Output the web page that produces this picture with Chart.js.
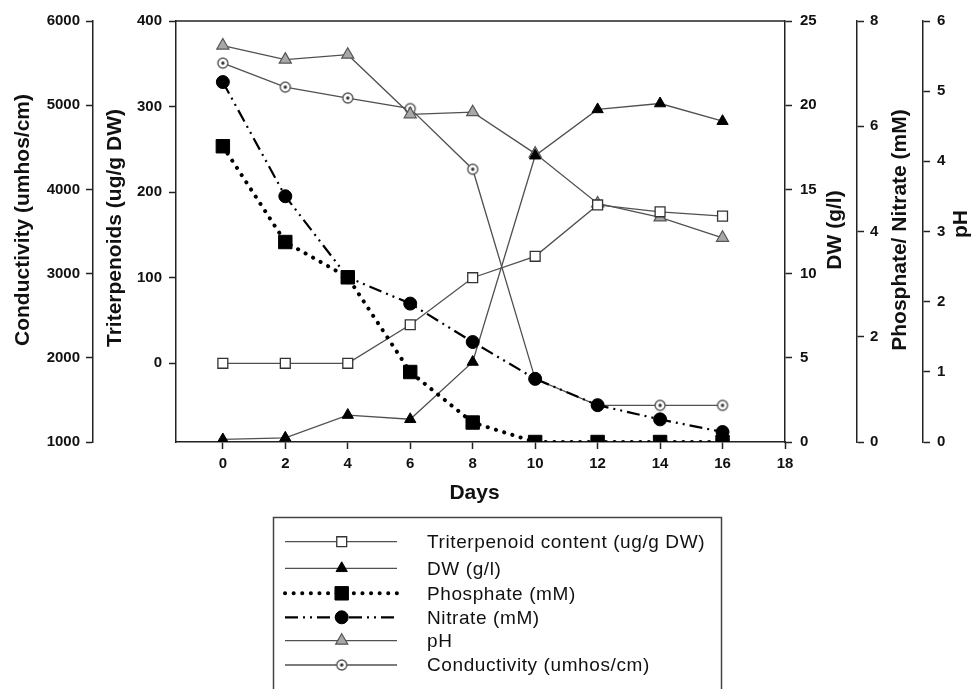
<!DOCTYPE html>
<html>
<head>
<meta charset="utf-8">
<title>Culture time course</title>
<script src="https://cdn.jsdelivr.net/npm/chart.js@4.4.1/dist/chart.umd.min.js"></script>
<style>
  body { margin: 0; background: #fff; }
  canvas { display: block; }
</style>
</head>
<body>
<canvas id="myChart" width="971" height="689"></canvas>
<script>
// values
const days = [0, 2, 4, 6, 8, 10, 12, 14, 16];
const triterpenoid = [0, 0, 0, 45, 100, 125, 185, 177, 172];
const dryWeight = [0.15, 0.25, 1.6, 1.35, 4.75, 17.0, 19.75, 20.1, 19.05];
const phosphate = [5.62, 3.8, 3.13, 1.33, 0.37, 0, 0, 0, 0];
const nitrate = [6.84, 4.67, 3.13, 2.63, 1.9, 1.2, 0.7, 0.43, 0.19];
const ph = [5.65, 5.45, 5.52, 4.67, 4.7, 4.11, 3.4, 3.2, 2.91];
const conductivity = [5500, 5215, 5085, 4960, 4240, 1750, 1435, 1435, 1435];

const dayTicks = [0, 2, 4, 6, 8, 10, 12, 14, 16, 18];
const conductivityTicks = [1000, 2000, 3000, 4000, 5000, 6000];
const triterpenoidTicks = [0, 100, 200, 300, 400];
const dwTicks = [0, 5, 10, 15, 20, 25];
const mmTicks = [0, 2, 4, 6, 8];
const phTicks = [0, 1, 2, 3, 4, 5, 6];

const seriesLabels = [
    'Triterpenoid content (ug/g DW)',
    'DW (g/l)',
    'Phosphate (mM)',
    'Nitrate (mM)',
    'pH',
    'Conductivity (umhos/cm)'
];

const toPoints = vals => vals.map((v, i) => ({ x: days[i], y: v }));
const useTicks = list => scale => { scale.ticks = list.map(v => ({ value: v })); };

const tickFont = { family: "'Liberation Sans', Arial, sans-serif", size: 15, weight: 'bold' };
const titleFont = "bold 21px 'Liberation Sans', Arial, sans-serif";
const legendFont = "19px 'Liberation Sans', Arial, sans-serif";
const axisColor = '#222';
const lineGray = '#505050';

// open circle with a dot in the middle, for conductivity
function circleDot(r) {
    const c = document.createElement('canvas');
    const s = 2 * r + 4;
    c.width = c.height = s;
    const g = c.getContext('2d');
    g.beginPath();
    g.arc(s / 2, s / 2, r, 0, Math.PI * 2);
    g.fillStyle = '#fff';
    g.fill();
    g.lineWidth = 1.4;
    g.strokeStyle = '#555';
    g.stroke();
    g.beginPath();
    g.arc(s / 2, s / 2, 1.7, 0, Math.PI * 2);
    g.fillStyle = '#333';
    g.fill();
    return c;
}
const condMarker = circleDot(5);

function yAxis(position, weight, width, min, max, ticks, padding) {
    return {
        type: 'linear',
        position: position,
        weight: weight,
        min: min,
        max: max,
        afterBuildTicks: useTicks(ticks),
        afterFit: scale => { scale.width = width; },
        grid: { drawOnChartArea: false, tickLength: 7, tickColor: axisColor, tickWidth: 1.5 },
        border: { display: true, color: axisColor, width: 1.5 },
        ticks: { font: tickFont, color: '#111', padding: padding, callback: v => String(v) }
    };
}

// axis titles drawn by hand so the right-hand ones read bottom to top
const axisTitles = {
    id: 'axisTitles',
    afterDraw(chart) {
        const { ctx, scales, chartArea } = chart;
        const vertical = [
            ['yCond', 23, 220, 'Conductivity (umhos/cm)'],
            ['yTri', 22, 228, 'Triterpenoids (ug/g DW)'],
            ['yDw', 50, 230, 'DW (g/l)'],
            ['yMm', 43, 230, 'Phosphate/ Nitrate (mM)'],
            ['yPh', 38, 224, 'pH']
        ];
        ctx.save();
        ctx.fillStyle = '#111';
        ctx.font = titleFont;
        ctx.textAlign = 'center';
        ctx.textBaseline = 'middle';
        vertical.forEach(([id, dx, y, text]) => {
            ctx.save();
            ctx.translate(scales[id].left + dx, y);
            ctx.rotate(-Math.PI / 2);
            ctx.fillText(text, 0, 0);
            ctx.restore();
        });
        ctx.fillText('Days', (chartArea.left + chartArea.right) / 2 - 6, 493);

        // top edge of the plot frame
        ctx.strokeStyle = axisColor;
        ctx.lineWidth = 1.5;
        ctx.beginPath();
        ctx.moveTo(chartArea.left, chartArea.top);
        ctx.lineTo(chartArea.right, chartArea.top);
        ctx.stroke();
        ctx.restore();
    }
};

// boxed legend under the plot
const boxLegend = {
    id: 'boxLegend',
    afterDraw(chart) {
        const ctx = chart.ctx;
        const rowY = [541.7, 568.3, 593.3, 617.3, 640.7, 665];
        ctx.save();
        ctx.strokeStyle = '#444';
        ctx.lineWidth = 1.5;
        ctx.strokeRect(273.5, 517.5, 448, 190);
        chart.data.datasets.forEach((ds, i) => {
            const y = rowY[i];
            ctx.save();
            ctx.strokeStyle = ds.borderColor;
            ctx.lineWidth = ds.borderWidth;
            ctx.lineCap = ds.borderCapStyle || 'butt';
            ctx.setLineDash(ds.borderDash || []);
            ctx.beginPath();
            ctx.moveTo(285, y);
            ctx.lineTo(397, y);
            ctx.stroke();
            ctx.restore();

            ctx.save();
            ctx.fillStyle = ds.pointBackgroundColor;
            ctx.strokeStyle = ds.pointBorderColor;
            ctx.lineWidth = ds.pointBorderWidth;
            Chart.helpers.drawPoint(ctx, {
                pointStyle: ds.pointStyle,
                radius: ds.pointRadius,
                rotation: 0,
                borderWidth: ds.pointBorderWidth
            }, 341.7, y);
            ctx.restore();

            ctx.save();
            ctx.fillStyle = '#111';
            ctx.font = legendFont;
            ctx.letterSpacing = '0.6px';
            ctx.textAlign = 'left';
            ctx.textBaseline = 'middle';
            ctx.fillText(ds.label, 427, y + 1);
            ctx.restore();
        });
        ctx.restore();
    }
};

const ctx = document.getElementById('myChart').getContext('2d');

new Chart(ctx, {
    type: 'line',
    data: {
        datasets: [{
            label: seriesLabels[0],
            data: toPoints(triterpenoid),
            yAxisID: 'yTri',
            borderColor: lineGray,
            borderWidth: 1.3,
            pointStyle: 'rect',
            pointRadius: 7,
            pointBackgroundColor: '#fff',
            pointBorderColor: '#333',
            pointBorderWidth: 1.3,
            order: 3
        }, {
            label: seriesLabels[1],
            data: toPoints(dryWeight),
            yAxisID: 'yDw',
            borderColor: lineGray,
            borderWidth: 1.3,
            pointStyle: 'triangle',
            pointRadius: 6.5,
            pointBackgroundColor: '#000',
            pointBorderColor: '#000',
            pointBorderWidth: 1,
            order: 4
        }, {
            label: seriesLabels[2],
            data: toPoints(phosphate),
            yAxisID: 'yMm',
            borderColor: '#000',
            borderWidth: 4,
            borderDash: [0.1, 8.5],
            borderCapStyle: 'round',
            pointStyle: 'rect',
            pointRadius: 9.5,
            pointBackgroundColor: '#000',
            pointBorderColor: '#000',
            pointBorderWidth: 1,
            order: 1
        }, {
            label: seriesLabels[3],
            data: toPoints(nitrate),
            yAxisID: 'yMm',
            borderColor: '#000',
            borderWidth: 2.2,
            borderDash: [13, 5, 2, 5, 2, 5],
            pointStyle: 'circle',
            pointRadius: 6.5,
            pointBackgroundColor: '#000',
            pointBorderColor: '#000',
            pointBorderWidth: 1,
            order: 2
        }, {
            label: seriesLabels[4],
            data: toPoints(ph),
            yAxisID: 'yPh',
            borderColor: lineGray,
            borderWidth: 1.3,
            pointStyle: 'triangle',
            pointRadius: 7,
            pointBackgroundColor: '#a8a8a8',
            pointBorderColor: '#555',
            pointBorderWidth: 1.2,
            order: 5
        }, {
            label: seriesLabels[5],
            data: toPoints(conductivity),
            yAxisID: 'yCond',
            borderColor: lineGray,
            borderWidth: 1.3,
            pointStyle: condMarker,
            pointRadius: 5,
            pointBackgroundColor: '#fff',
            pointBorderColor: '#555',
            pointBorderWidth: 1.3,
            order: 6
        }]
    },
    options: {
        responsive: false,
        animation: false,
        layout: { padding: { top: 21, bottom: 217, left: 0, right: 0 } },
        elements: { line: { tension: 0 } },
        plugins: {
            legend: { display: false },
            tooltip: { enabled: false }
        },
        scales: {
            x: {
                type: 'linear',
                position: 'bottom',
                min: -1.5,
                max: 18,
                afterBuildTicks: useTicks(dayTicks),
                afterFit: scale => { scale.height = 30; },
                grid: { drawOnChartArea: false, tickLength: 7, tickColor: axisColor, tickWidth: 1.5 },
                border: { display: true, color: axisColor, width: 1.5 },
                ticks: { font: tickFont, color: '#111', padding: 6, maxRotation: 0 }
            },
            yTri: yAxis('left', 1, 83, -92, 400, triterpenoidTicks, 7),
            yCond: yAxis('left', 2, 93, 1000, 6000, conductivityTicks, 6),
            yDw: yAxis('right', 1, 72, 0, 25, dwTicks, 8),
            yMm: yAxis('right', 2, 66, 0, 8, mmTicks, 6),
            yPh: yAxis('right', 3, 48, 0, 6, phTicks, 7)
        }
    },
    plugins: [axisTitles, boxLegend]
});
</script>
</body>
</html>
